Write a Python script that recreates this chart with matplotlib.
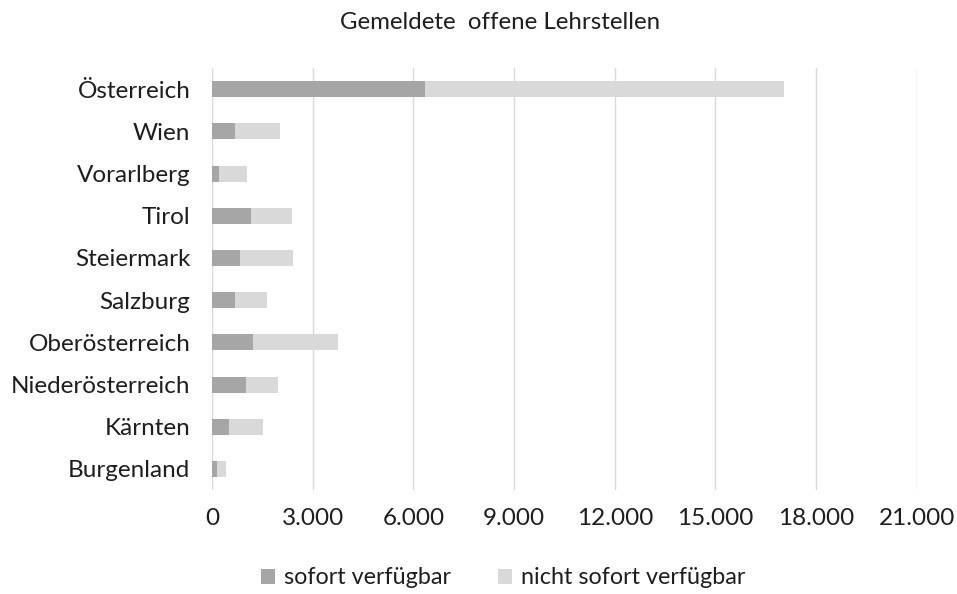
import matplotlib
matplotlib.use("Agg")
import matplotlib.pyplot as plt
from matplotlib.ticker import FuncFormatter

plt.rcParams['font.family'] = ['Lato', 'DejaVu Sans']

regions = ['Österreich', 'Wien', 'Vorarlberg', 'Tirol', 'Steiermark', 'Salzburg',
           'Oberösterreich', 'Niederösterreich', 'Kärnten', 'Burgenland']
sofort = [6360, 680, 200, 1175, 830, 690, 1225, 1000, 520, 150]
nicht_sofort = [10680, 1340, 845, 1195, 1590, 935, 2520, 970, 1000, 270]
xticks = [0, 3000, 6000, 9000, 12000, 15000, 18000, 21000]

fig = plt.figure(figsize=(9.57, 5.94), dpi=100)
ax = fig.add_axes([0.2215, 0.175, 0.7365, 0.7105])

ypos = list(range(len(regions)))[::-1]
ax.barh(ypos, sofort, height=0.38, color='#a6a6a6', label='sofort verfügbar', zorder=3)
ax.barh(ypos, nicht_sofort, left=sofort, height=0.38, color='#d9d9d9',
        label='nicht sofort verfügbar', zorder=3)

ax.set_xlim(0, 21000)
ax.set_ylim(-0.5, len(regions) - 0.5)
ax.set_xticks(xticks)
ax.xaxis.set_major_formatter(FuncFormatter(lambda v, p: f'{int(v):,}'.replace(',', '.')))
ax.set_yticks(ypos)
ax.set_yticklabels(regions)
ax.grid(axis='x', color='#d9d9d9', linewidth=1, zorder=0)
for s in ax.spines.values():
    s.set_visible(False)
ax.tick_params(axis='both', length=0, labelsize=17.5, colors='#1e1e1e')
ax.tick_params(axis='x', pad=13)
ax.tick_params(axis='y', pad=15.5)

fig.text(0.523, 0.962, 'Gemeldete  offene Lehrstellen', ha='center', va='center',
         fontsize=17.3, color='#1e1e1e')
fig.legend(loc='center', bbox_to_anchor=(0.526, 0.027), ncol=2, frameon=False,
           fontsize=16.8, handlelength=0.6, handleheight=0.6, columnspacing=2.0,
           handletextpad=0.4, labelcolor='#1e1e1e')

fig.savefig('out.png', dpi=100)
